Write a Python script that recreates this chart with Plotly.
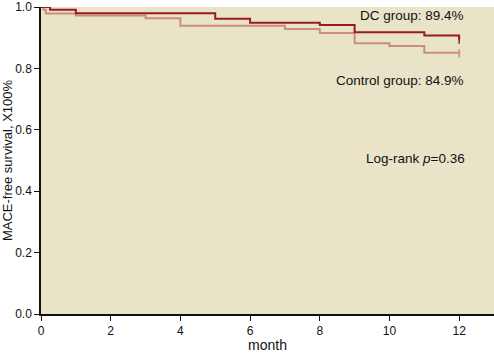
import plotly.graph_objects as go

# Kaplan-Meier step data (month, survival)
dc_t = [0, 0.26, 1, 5, 6, 8, 9, 11, 12]
dc_s = [1.0, 0.991, 0.980, 0.962, 0.949, 0.941, 0.918, 0.907, 0.894]

ctrl_t = [0, 0.07, 0.14, 1, 3, 4, 7, 8, 9, 10, 11, 12]
ctrl_s = [1.0, 0.991, 0.979, 0.972, 0.963, 0.939, 0.928, 0.915, 0.882, 0.873, 0.851, 0.849]

x_ticks = [0, 2, 4, 6, 8, 10, 12]
y_ticks = [0.0, 0.2, 0.4, 0.6, 0.8, 1.0]

dc_color = "#9a1a20"
ctrl_color = "#cc8e7b"

fig = go.Figure()
fig.add_trace(go.Scatter(x=ctrl_t, y=ctrl_s, mode="lines", line_shape="hv",
                         line=dict(color=ctrl_color, width=2), showlegend=False))
fig.add_trace(go.Scatter(x=dc_t, y=dc_s, mode="lines", line_shape="hv",
                         line=dict(color=dc_color, width=2), showlegend=False))
# censor marks at end
fig.add_trace(go.Scatter(x=[ctrl_t[-1]], y=[ctrl_s[-1]], mode="markers",
                         marker=dict(symbol="line-ns", size=6, line=dict(color=ctrl_color, width=1.5)),
                         showlegend=False))
fig.add_trace(go.Scatter(x=[dc_t[-1]], y=[dc_s[-1]], mode="markers",
                         marker=dict(symbol="line-ns", size=6, line=dict(color=dc_color, width=1.5)),
                         showlegend=False))

ann_font = dict(family="Liberation Sans, Arial, sans-serif", size=13.5, color="#111")
fig.add_annotation(x=12.2, y=0.971, text="DC group: 89.4%", showarrow=False,
                   xanchor="right", yanchor="middle", font=ann_font)
fig.add_annotation(x=12.2, y=0.759, text="Control group: 84.9%", showarrow=False,
                   xanchor="right", yanchor="middle", font=ann_font)
fig.add_annotation(x=12.23, y=0.505, text="Log-rank <i>p</i>=0.36", showarrow=False,
                   xanchor="right", yanchor="middle", font=ann_font)

tick_font = dict(family="Liberation Sans Narrow, Arial Narrow, sans-serif", size=12, color="#111")
fig.update_layout(
    width=494, height=353,
    margin=dict(l=41, r=0, t=7, b=39),
    paper_bgcolor="white",
    plot_bgcolor="#e9e4c8",
    xaxis=dict(range=[0, 13], tickvals=x_ticks, ticks="outside", ticklen=5, tickwidth=1,
               tickcolor="#111", showline=True, linecolor="#111", linewidth=1.5,
               showgrid=False, zeroline=False, tickfont=tick_font,
               title=dict(text="month", standoff=0,
                          font=dict(family="Liberation Sans, Arial, sans-serif", size=14, color="#111"))),
    yaxis=dict(range=[0, 1.0], tickvals=y_ticks, tickformat=".1f", ticks="outside", ticklen=5,
               tickwidth=1, tickcolor="#111", showline=True, linecolor="#111", linewidth=1.5,
               showgrid=False, zeroline=False, tickfont=tick_font,
               title=dict(text="MACE-free survival, X100%", standoff=4,
                          font=dict(family="Liberation Sans, Arial, sans-serif", size=13, color="#111"))),
)

fig.write_html("out.html")
